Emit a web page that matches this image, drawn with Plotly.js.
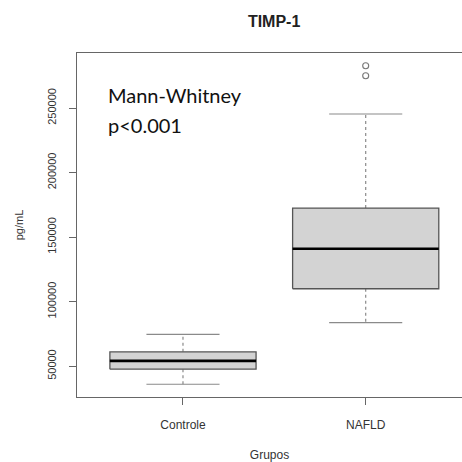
<!DOCTYPE html>
<html>
<head>
<meta charset="utf-8">
<script src="https://cdn.plot.ly/plotly-3.0.1.min.js"></script>
<style>html,body{margin:0;padding:0;background:#fff}#chart{width:462px;height:462px}</style>
</head>
<body>
<div id="chart"></div>
<script>
// ---- data ----
const categories = ['Controle', 'NAFLD'];
const lowerWhisker = [36000, 83700];
const q1 = [47700, 110000];
const median = [54100, 141000];
const q3 = [61100, 172500];
const upperWhisker = [74600, 245400];
const outlierGroup = ['NAFLD', 'NAFLD'];
const outlierValues = [275000, 282800];
const yTicks = [50000, 100000, 150000, 200000, 250000];

// ---- build traces ----
const halfBox = 0.4, halfCap = 0.2;
const traces = [];
categories.forEach((c, i) => {
  const x = i + 1;
  traces.push({ // whiskers (dashed)
    type: 'scatter', mode: 'lines', hoverinfo: 'skip', showlegend: false,
    x: [x, x, null, x, x], y: [q3[i], upperWhisker[i], null, q1[i], lowerWhisker[i]],
    line: {color: '#8a8a8a', width: 1.2, dash: '3px,3px'}
  });
  traces.push({ // caps
    type: 'scatter', mode: 'lines', hoverinfo: 'skip', showlegend: false,
    x: [x - halfCap, x + halfCap, null, x - halfCap, x + halfCap],
    y: [upperWhisker[i], upperWhisker[i], null, lowerWhisker[i], lowerWhisker[i]],
    line: {color: '#8a8a8a', width: 1.2}
  });
  traces.push({ // box
    type: 'scatter', mode: 'lines', hoverinfo: 'skip', showlegend: false,
    x: [x - halfBox, x + halfBox, x + halfBox, x - halfBox, x - halfBox],
    y: [q1[i], q1[i], q3[i], q3[i], q1[i]],
    fill: 'toself', fillcolor: '#d3d3d3',
    line: {color: '#555555', width: 1.3}
  });
  traces.push({ // median
    type: 'scatter', mode: 'lines', hoverinfo: 'skip', showlegend: false,
    x: [x - halfBox, x + halfBox], y: [median[i], median[i]],
    line: {color: '#000000', width: 2.7}
  });
});
traces.push({ // outliers
  type: 'scatter', mode: 'markers', hoverinfo: 'skip', showlegend: false,
  x: outlierGroup.map(g => categories.indexOf(g) + 1), y: outlierValues,
  marker: {symbol: 'circle-open', size: 6, color: '#777', line: {width: 1.1}}
});

// y range like R: data range extended by 4%
const allVals = lowerWhisker.concat(upperWhisker, outlierValues);
const yMin = Math.min(...allVals), yMax = Math.max(...allVals);
const pad = (yMax - yMin) * 0.04;

const tickFont = {family: 'Liberation Sans, Arial, sans-serif', size: 11, color: '#333'};

const layout = {
  width: 462, height: 462,
  margin: {l: 77, r: 0, t: 53, b: 65},
  paper_bgcolor: '#fff', plot_bgcolor: '#fff',
  showlegend: false,
  title: {
    text: '<b>TIMP-1</b>', x: 0.512, xref: 'paper', xanchor: 'center',
    y: 1 - 21 / 462, yref: 'container', yanchor: 'middle',
    font: {family: 'Liberation Sans, Arial, sans-serif', size: 16, color: '#222'}
  },
  xaxis: {
    range: [0.42, 2.527], tickmode: 'array', tickvals: categories.map((c, i) => i + 1), ticktext: categories,
    showgrid: false, zeroline: false, showline: true, linecolor: '#666', linewidth: 1.2, mirror: true,
    ticks: 'outside', ticklen: 7, tickcolor: '#666', tickfont: {family: tickFont.family, size: 12, color: '#333'},
    ticklabelstandoff: 9,
    title: {text: 'Grupos', standoff: 20, font: {family: tickFont.family, size: 12, color: '#333'}},
    automargin: false, fixedrange: true
  },
  yaxis: {
    range: [yMin - pad, yMax + pad], tickmode: 'array', tickvals: yTicks, tickformat: 'd',
    tickangle: -90,
    showgrid: false, zeroline: false, showline: true, linecolor: '#666', linewidth: 1.2,
    ticks: 'outside', ticklen: 7, tickcolor: '#666', tickfont: tickFont,
    ticklabelstandoff: 8,
    title: {text: 'pg/mL', standoff: 20, font: {family: tickFont.family, size: 11, color: '#333'}},
    automargin: false, fixedrange: true
  },
  annotations: [
    {text: 'Mann-Whitney', xref: 'paper', yref: 'paper', x: (106 - 77) / 385, y: (397.5 - 95) / 344,
     xanchor: 'left', yanchor: 'middle', showarrow: false,
     font: {family: 'Lato, Carlito, Calibri, sans-serif', size: 20, color: '#111'}},
    {text: 'p&lt;0.001', xref: 'paper', yref: 'paper', x: (106 - 77) / 385, y: (397.5 - 125) / 344,
     xanchor: 'left', yanchor: 'middle', showarrow: false,
     font: {family: 'Lato, Carlito, Calibri, sans-serif', size: 20, color: '#111'}}
  ]
};

Plotly.newPlot('chart', traces, layout, {staticPlot: true, displayModeBar: false});
</script>
</body>
</html>
